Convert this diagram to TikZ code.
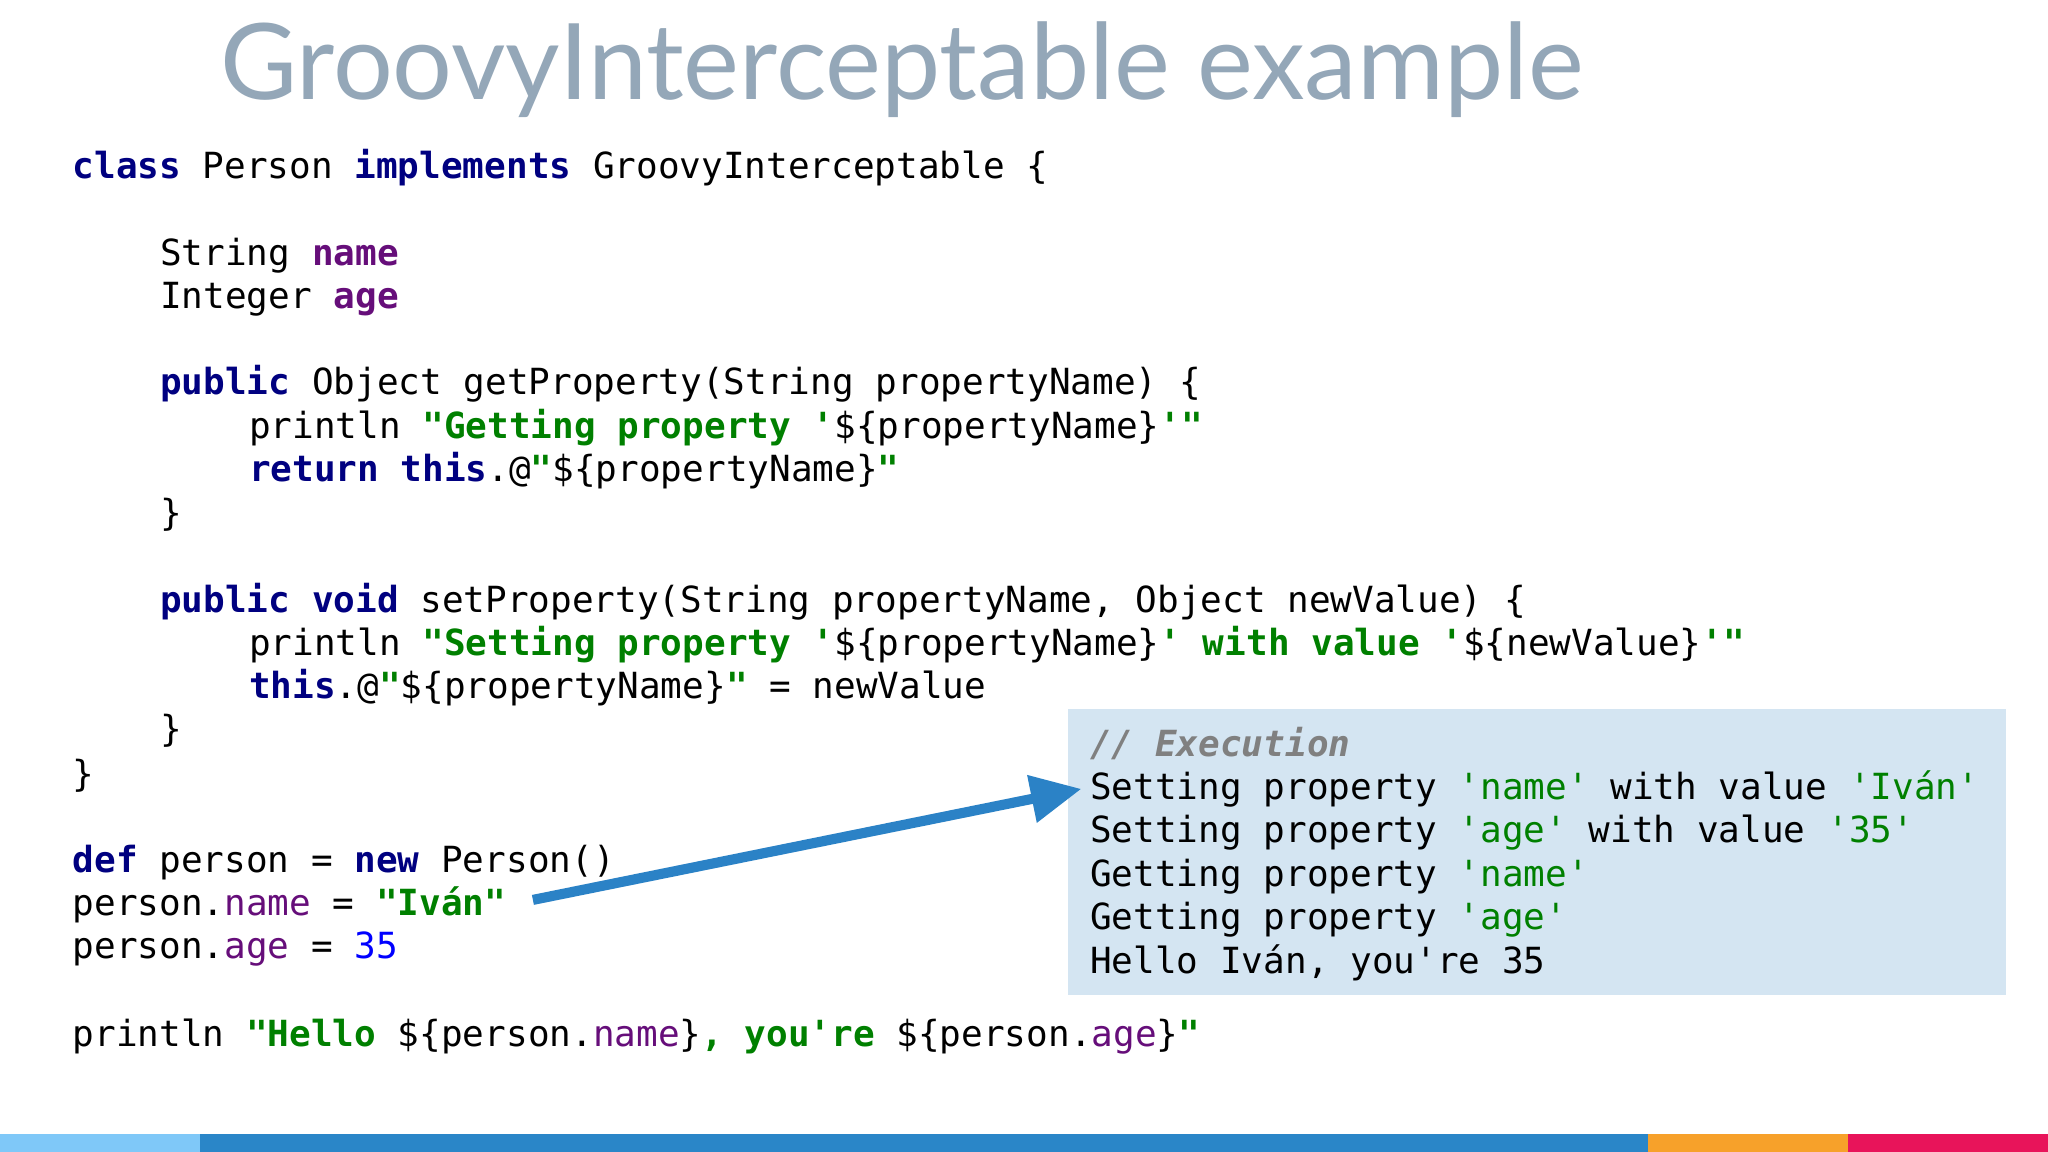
\documentclass[tikz,border=0pt]{standalone}
\usepackage{fontspec}
\setmainfont{Lato}
\setmonofont{DejaVu Sans Mono}
\usetikzlibrary{arrows.meta}
\definecolor{kw}{HTML}{000080}
\definecolor{pr}{HTML}{660E7A}
\definecolor{sg}{HTML}{008000}
\definecolor{nb}{HTML}{0000FF}
\definecolor{tt}{HTML}{94A7B8}
\definecolor{bx}{HTML}{D4E5F2}
\definecolor{ar}{HTML}{2B82C6}
\definecolor{b1}{HTML}{7FC8F8}
\definecolor{b2}{HTML}{2A86C8}
\definecolor{b3}{HTML}{F7A12A}
\definecolor{b4}{HTML}{E8145A}
\newcommand{\kw}[1]{\textcolor{kw}{\bfseries #1}}
\newcommand{\pb}[1]{\textcolor{pr}{\bfseries #1}}
\newcommand{\pn}[1]{\textcolor{pr}{#1}}
\newcommand{\sgb}[1]{\textcolor{sg}{\bfseries #1}}
\newcommand{\sgn}[1]{\textcolor{sg}{#1}}
\tikzset{code/.style={anchor=base west,inner sep=0pt,font=\ttfamily\fontsize{7.84}{9}\selectfont}}
\begin{document}
\begin{tikzpicture}[x=0.01cm,y=-0.01cm]
\useasboundingbox (0,0) rectangle (1568,882);
\fill[white] (0,0) rectangle (1568,882);
\node[anchor=base west,inner sep=0pt,text=tt,font=\fontsize{23}{26}\selectfont] (title) at (168,76) {GroovyInterceptable example};
\fill[bx] (818,543) rectangle (1536,762);
\node[code] (l1) at (55,137) {\kw{class} Person \kw{implements} GroovyInterceptable \{};
\node[code] (l2) at (122,203) {String \pb{name}};
\node[code] (l3) at (122,236) {Integer \pb{age}};
\node[code] (l4) at (122,302) {\kw{public} Object getProperty(String propertyName) \{};
\node[code] (l5) at (190,336) {println \sgb{"Getting property '}\$\{propertyName\}\sgb{'"}};
\node[code] (l6) at (190,369) {\kw{return this}.@\sgb{"}\$\{propertyName\}\sgb{"}};
\node[code] (l7) at (122,402) {\}};
\node[code] (l8) at (122,469) {\kw{public void} setProperty(String propertyName, Object newValue) \{};
\node[code] (l9) at (190,502) {println \sgb{"Setting property '}\$\{propertyName\}\sgb{' with value '}\$\{newValue\}\sgb{'"}};
\node[code] (l10) at (190,535) {\kw{this}.@\sgb{"}\$\{propertyName\}\sgb{"} = newValue};
\node[code] (l11) at (122,568) {\}};
\node[code] (l12) at (55,602) {\}};
\node[code] (l13) at (55,668) {\kw{def} person = \kw{new} Person()};
\node[code] (l14) at (55,701) {person.\pn{name} = \sgb{"Iván"}};
\node[code] (l15) at (55,734) {person.\pn{age} = \textcolor{nb}{35}};
\node[code] (l16) at (55,801) {println \sgb{"Hello }\$\{person.\pn{name}\}\sgb{, you're }\$\{person.\pn{age}\}\sgb{"}};
\node[code] (o1) at (834,579) {\textcolor{gray}{\bfseries\itshape // Execution}};
\node[code] (o2) at (834,612) {Setting property \sgn{'name'} with value \sgn{'Iván'}};
\node[code] (o3) at (834,645) {Setting property \sgn{'age'} with value \sgn{'35'}};
\node[code] (o4) at (834,679) {Getting property \sgn{'name'}};
\node[code] (o5) at (834,712) {Getting property \sgn{'age'}};
\node[code] (o6) at (834,745) {Hello Iván, you're 35};
\coordinate (as) at (408,689);
\coordinate (ae) at (828,604);
\draw[ar,line width=2.2pt,-{Triangle[length=11pt,width=10pt]}] (as) -- (ae);
\fill[b1] (0,868) rectangle (153,882);
\fill[b2] (153,868) rectangle (1262,882);
\fill[b3] (1262,868) rectangle (1415,882);
\fill[b4] (1415,868) rectangle (1568,882);
\end{tikzpicture}
\end{document}
